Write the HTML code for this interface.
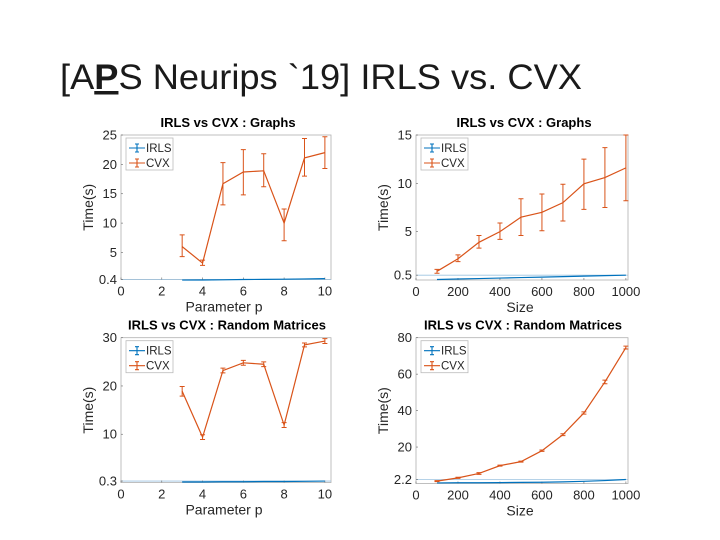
<!DOCTYPE html>
<html><head><meta charset="utf-8"><style>
html,body{margin:0;padding:0;background:#fff;}
svg{display:block;font-family:"Liberation Sans",sans-serif;}
</style></head><body>
<svg id="s" width="720" height="540" viewBox="0 0 720 540">
<text x="60" y="89" font-size="35" fill="#1a1a1a" textLength="522" lengthAdjust="spacingAndGlyphs">[A<tspan font-weight="bold" text-decoration="underline">P</tspan>S Neurips `19] IRLS vs. CVX</text>
</svg>
<script>
// ---- data ----
const pCats = [3,4,5,6,7,8,9,10];
const sizeCats = [100,200,300,400,500,600,700,800,900,1000];
const g1Cvx = [6,3.2,16.7,18.7,18.9,10,21.1,22];
const g1CvxLo = [4.3,2.8,13.1,14.8,16.2,7,18,19.3];
const g1CvxHi = [8,3.7,20.3,22.5,21.8,12.4,24.4,24.7];
const g1Irls = [0.3,0.32,0.35,0.4,0.42,0.45,0.5,0.55];
const g2Cvx = [0.9,2.2,3.9,5.0,6.5,7.0,8.0,9.95,10.6,11.6];
const g2CvxLo = [0.7,1.9,3.3,4.2,4.6,5.1,6.1,7.3,7.5,8.2];
const g2CvxHi = [1.1,2.6,4.6,5.9,8.4,8.9,9.9,12.5,13.7,15];
const g2Irls = [0.05,0.1,0.15,0.2,0.25,0.3,0.35,0.4,0.45,0.5];
const r1Cvx = [18.9,9.4,23.2,24.8,24.5,11.9,28.5,29.3];
const r1CvxErr = [1.0,0.5,0.5,0.5,0.5,0.5,0.4,0.5];
const r1Irls = [0.1,0.1,0.15,0.15,0.2,0.2,0.25,0.3];
const r2Cvx = [1.3,3.1,5.5,9.8,12,18,26.8,38.7,55.7,74.6];
const r2CvxErr = [0.3,0.3,0.5,0.3,0.3,0.4,0.5,0.6,1.0,0.8];
const r2Irls = [0.3,0.4,0.4,0.5,0.6,0.7,0.9,1.2,1.6,2.2];
const g1YTicks = [0.4,5,10,15,20,25];
const g2YTicks = [0.5,5,10,15];
const r1YTicks = [0.3,10,20,30];
const r2YTicks = [2.2,20,40,60,80];
const pXTicks = [0,2,4,6,8,10];
const sizeXTicks = [0,200,400,600,800,1000];

const NS="http://www.w3.org/2000/svg";
const svg=document.getElementById('s');
function mk(tag,attrs,parent){const e=document.createElementNS(NS,tag);for(const k in attrs)e.setAttribute(k,attrs[k]);(parent||svg).appendChild(e);return e;}
const BLUE="#0072BD",RED="#D95319",TXT="#262626";

function panel(cfg){
  const g=mk('g',{});
  
  
  const sx=v=>cfg.L+(v-cfg.x0)/(cfg.x1-cfg.x0)*(cfg.R-cfg.L);
  const sy=v=>cfg.B-(v-cfg.y0)/(cfg.y1-cfg.y0)*(cfg.B-cfg.T);
  const box=mk('rect',{x:cfg.L,y:cfg.T,width:cfg.R-cfg.L,height:cfg.B-cfg.T,fill:'#fff',stroke:'#b0b0b0','stroke-width':0.8},g);
  
  
  const ref=mk('line',{x1:cfg.L,x2:cfg.R,y1:sy(cfg.yt[0]),y2:sy(cfg.yt[0]),stroke:'#9cc3e0','stroke-width':0.8},g);
  
  
  cfg.xt.forEach(v=>{
    const t=mk('text',{x:sx(v),y:cfg.B+16,'font-size':13,'text-anchor':'middle',fill:TXT},g);
    t.textContent=v;
    
    
    mk('line',{x1:sx(v),x2:sx(v),y1:cfg.B,y2:cfg.B-2,stroke:'#666','stroke-width':0.6},g);
  });
  cfg.yt.forEach(v=>{
    const t=mk('text',{x:cfg.L-4,y:sy(v)+4.5,'font-size':13,'text-anchor':'end',fill:TXT},g);
    t.textContent=v;
    
    
    mk('line',{x1:cfg.L,x2:cfg.L+2,y1:sy(v),y2:sy(v),stroke:'#666','stroke-width':0.6},g);
  });
  const xl=mk('text',{x:(cfg.L+cfg.R)/2-2,y:cfg.B+32,'font-size':14,'text-anchor':'middle',fill:TXT},g);
  xl.textContent=cfg.xlabel;
  
  
  const yc=(cfg.T+cfg.B)/2;
  const yl=mk('text',{x:cfg.L-28,y:yc,'font-size':14,'text-anchor':'middle',fill:TXT,transform:`rotate(-90 ${cfg.L-28} ${yc})`},g);
  yl.textContent='Time(s)';
  
  
  const ti=mk('text',{x:cfg.tx,y:cfg.T-8,'font-size':13,'font-weight':'bold','text-anchor':'middle',fill:'#000'},g);
  ti.textContent=cfg.title;
  
  
  function series(xs,ys,lo,hi,col,nm){
    const pts=xs.map((x,i)=>sx(x)+','+sy(ys[i])).join(' ');
    const pl=mk('polyline',{points:pts,fill:'none',stroke:col,'stroke-width':1.2},g);
    
    
    if(lo){xs.forEach((x,i)=>{
      const X=sx(x),a=sy(lo[i]),b=sy(hi[i]);
      const eb=mk('path',{d:`M${X},${a}V${b}M${X-2.5},${a}H${X+2.5}M${X-2.5},${b}H${X+2.5}`,stroke:col,'stroke-width':1,fill:'none'},g);
      
      
    });}
  }
  series(cfg.xs,cfg.irls,null,null,BLUE,'irls');
  series(cfg.xs,cfg.cvx,cfg.lo,cfg.hi,RED,'cvx');
  const lg=mk('g',{},g);
  
  
  const lx=cfg.L+5,ly=cfg.T+3;
  mk('rect',{x:lx,y:ly,width:47,height:32,fill:'#fff',stroke:'#bbb','stroke-width':0.8},lg);
  [[BLUE,'IRLS',ly+10],[RED,'CVX',ly+25]].forEach(([c,l,y])=>{
    mk('path',{d:`M${lx+3},${y}H${lx+19}M${lx+11},${y-4}V${y+4}M${lx+9},${y-4}H${lx+13}M${lx+9},${y+4}H${lx+13}`,stroke:c,'stroke-width':1.1,fill:'none'},lg);
    const t=mk('text',{x:lx+20,y:y+4,'font-size':11.5,fill:TXT},lg);
    t.textContent=l;
    
    
  });
}
const lohi=(v,e,s)=>v.map((x,i)=>x+s*e[i]);
panel({name:'graphs-param-chart',L:121,R:331,T:135,B:279.5,x0:0,x1:10.3,y0:0.4,y1:25,xt:pXTicks,yt:g1YTicks,xs:pCats,cvx:g1Cvx,lo:g1CvxLo,hi:g1CvxHi,irls:g1Irls,title:'IRLS vs CVX : Graphs',tx:228,xlabel:'Parameter p'});
panel({name:'graphs-size-chart',L:416,R:628,T:135,B:280,x0:0,x1:1010,y0:0,y1:15,xt:sizeXTicks,yt:g2YTicks,xs:sizeCats,cvx:g2Cvx,lo:g2CvxLo,hi:g2CvxHi,irls:g2Irls,title:'IRLS vs CVX : Graphs',tx:524,xlabel:'Size'});
panel({name:'random-param-chart',L:121,R:331,T:337.7,B:482.5,x0:0,x1:10.3,y0:0,y1:30,xt:pXTicks,yt:r1YTicks,xs:pCats,cvx:r1Cvx,lo:lohi(r1Cvx,r1CvxErr,-1),hi:lohi(r1Cvx,r1CvxErr,1),irls:r1Irls,title:'IRLS vs CVX : Random Matrices',tx:227,xlabel:'Parameter p'});
panel({name:'random-size-chart',L:416,R:628,T:337.7,B:483.5,x0:0,x1:1010,y0:0,y1:80,xt:sizeXTicks,yt:r2YTicks,xs:sizeCats,cvx:r2Cvx,lo:lohi(r2Cvx,r2CvxErr,-1),hi:lohi(r2Cvx,r2CvxErr,1),irls:r2Irls,title:'IRLS vs CVX : Random Matrices',tx:523,xlabel:'Size'});
</script>
</body></html>
